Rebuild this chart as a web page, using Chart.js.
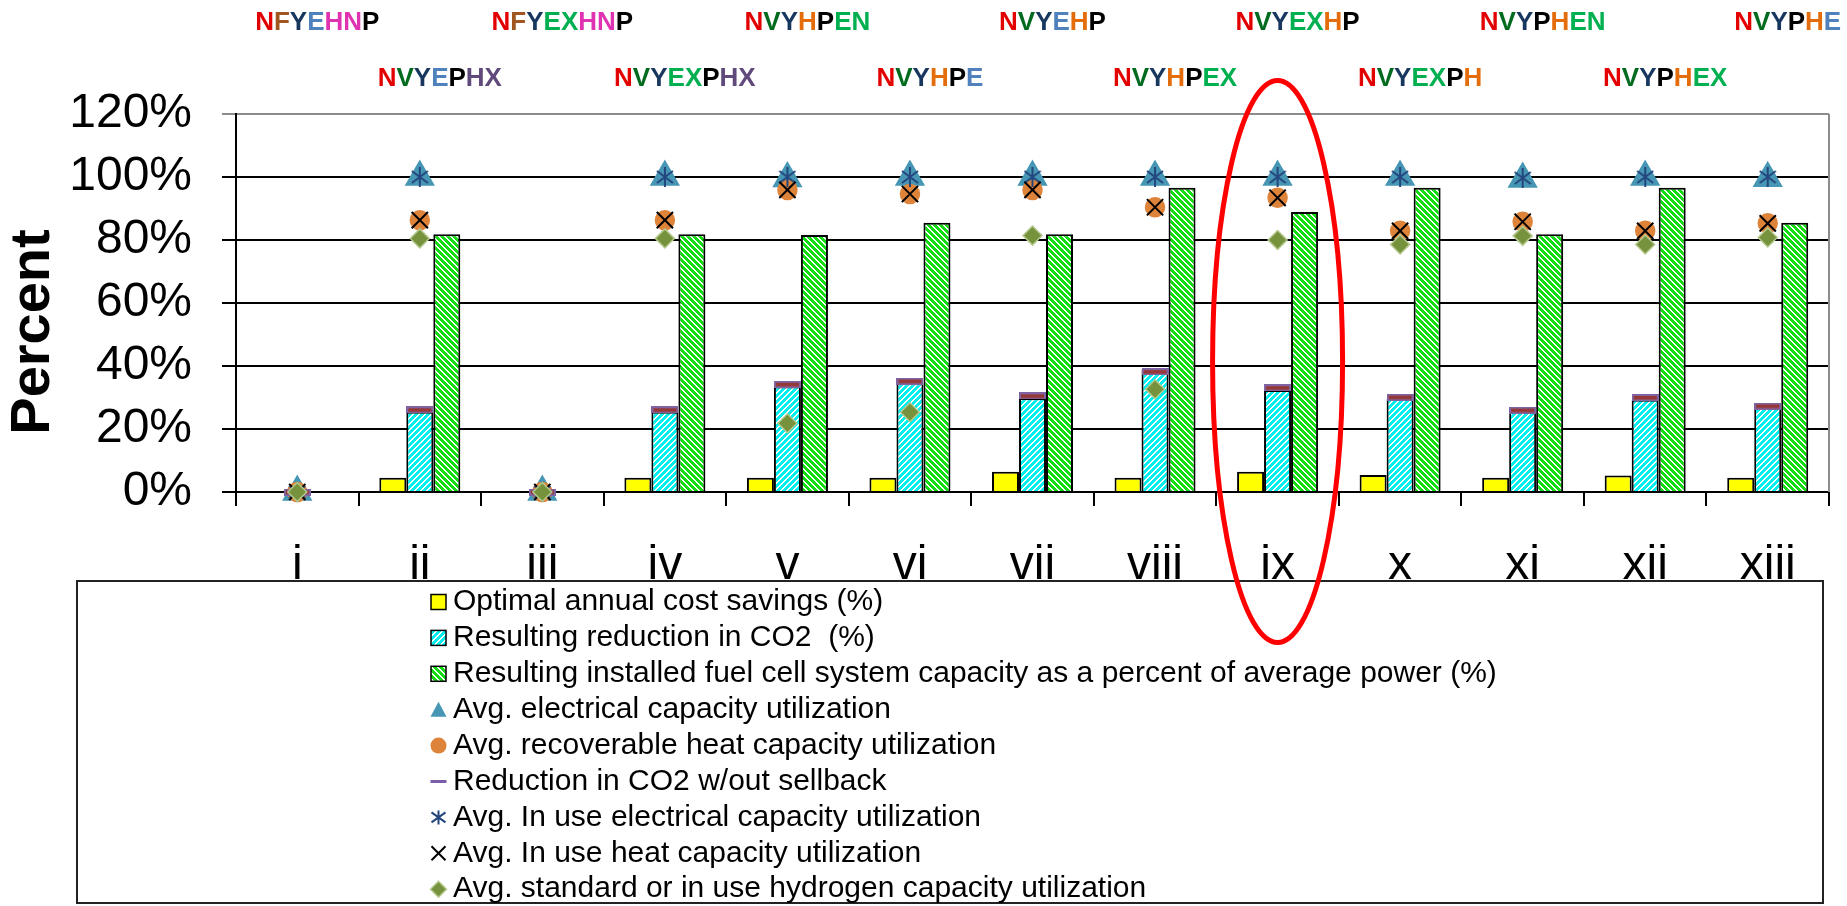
<!DOCTYPE html>
<html>
<head>
<meta charset="utf-8">
<title>Fuel cell system results</title>
<script src="https://cdn.jsdelivr.net/npm/chart.js@4.4.1/dist/chart.umd.min.js"></script>
<style>
    body { margin: 0; background: #fff; }
    canvas { display: block; }
</style>
</head>
<body>
<canvas id="resultsChart" width="1847" height="906"></canvas>
<script>
// ---- data ----
var categories = ['i', 'ii', 'iii', 'iv', 'v', 'vi', 'vii', 'viii', 'ix', 'x', 'xi', 'xii', 'xiii'];
var yTicks = [0, 20, 40, 60, 80, 100, 120];

var costSavings   = [0, 4.5, 0, 4.5, 4.5, 4.5, 6.4, 4.5, 6.4, 5.4, 4.5, 5.2, 4.5];
var co2Reduction  = [0, 25.5, 0, 25.5, 33.5, 34.5, 29.8, 39.0, 32.4, 29.5, 25.4, 29.3, 26.7];
var fcCapacity    = [0, 81.8, 0, 81.8, 81.6, 85.5, 81.8, 96.6, 88.9, 96.6, 81.8, 96.6, 85.5];
var elecUtil      = [0, 100, 0, 100, 99.5, 100, 100, 100, 100, 100, 99.4, 100, 99.6];
var heatUtil      = [0, 86.3, 0, 86.3, 95.9, 94.6, 95.9, 90.4, 93.4, 82.9, 85.8, 82.9, 85.3];
var co2NoSellback = [0, 26.1, 0, 26.1, 34.2, 35.2, 30.5, 38.2, 33.1, 30.1, 26.0, 30.0, 27.3];
var inUseElec     = [0, 100, 0, 100, 100, 100, 100, 100, 100, 100, 99.7, 100, 100];
var inUseHeat     = [0, 86.3, 0, 86.3, 95.9, 94.6, 95.9, 90.4, 93.4, 82.9, 85.8, 82.9, 85.3];
var h2Util        = [0, 80.5, 0, 80.5, 21.8, 25.3, 81.4, 32.6, 80.0, 78.6, 81.3, 78.6, 80.8];

// scenario codes printed above each category
var techLabels = ['NFYEHNP', 'NVYEPHX', 'NFYEXHNP', 'NVYEXPHX', 'NVYHPEN', 'NVYHPE', 'NVYEHP',
                  'NVYHPEX', 'NVYEXHP', 'NVYEXPH', 'NVYPHEN', 'NVYPHEX', 'NVYPHE'];

// ---- styling ----
var FONT = '"Liberation Sans", Arial, sans-serif';
Chart.defaults.font.family = FONT;
Chart.defaults.color = '#000';

// one colour code per letter of techLabels
var letterColors = ['rbdlppk', 'rvdlkuu', 'rbdggppk', 'rvdggkuu', 'rvdokgg', 'rvdokl', 'rvdlok',
                    'rvdokgg', 'rvdggok', 'rvdggko', 'rvdkogg', 'rvdkogg', 'rvdkol'];
var palette = {
    r: '#E30000', b: '#A0561E', d: '#17375E', l: '#4F81BD', p: '#E033B2',
    k: '#000000', g: '#00B050', v: '#006B1E', o: '#E46C0A', u: '#604A7B'
};

function hatch(color, up) {
    // pixel diagonal stripes, 6px period, 4px coloured
    var c = document.createElement('canvas');
    c.width = 6; c.height = 6;
    var g = c.getContext('2d');
    g.fillStyle = '#fff';
    g.fillRect(0, 0, 6, 6);
    g.fillStyle = color;
    for (var px = 0; px < 6; px++) {
        for (var py = 0; py < 6; py++) {
            var k = up ? (px + py) % 6 : (px - py + 6) % 6;
            if (k < 4) g.fillRect(px, py, 1, 1);
        }
    }
    return g.createPattern(c, 'repeat');
}

function asteriskImage(w, h, color) {
    var c = document.createElement('canvas');
    c.width = w; c.height = h;
    var g = c.getContext('2d');
    g.strokeStyle = color;
    g.lineWidth = 2;
    g.beginPath();
    g.moveTo(w / 2, 0); g.lineTo(w / 2, h);
    g.moveTo(1, h * 0.2); g.lineTo(w - 1, h * 0.8);
    g.moveTo(w - 1, h * 0.2); g.lineTo(1, h * 0.8);
    g.stroke();
    return c;
}

function dashImage() {
    var c = document.createElement('canvas');
    c.width = 27; c.height = 7;
    var g = c.getContext('2d');
    g.fillStyle = '#8064A2';
    g.fillRect(0, 0, 27, 7);
    g.fillStyle = '#953735';
    g.fillRect(2, 2, 23, 3.5);
    return c;
}

var cyanHatch = hatch('#00F0F0', true);
var greenHatch = hatch('#11DD11', false);

var TRI = '#4696B4', CIRC = '#DE843A', STAR = '#24467E', DIAM = '#76923C';

function drawLegendSymbol(ctx, ds, x, y) {
    ctx.save();
    ctx.lineWidth = 1.5;
    switch (ds.sym) {
        case 'box':
            ctx.fillStyle = ds.backgroundColor;
            ctx.fillRect(x - 7.5, y - 7.5, 15, 15);
            ctx.strokeStyle = '#000';
            ctx.strokeRect(x - 7.5, y - 7.5, 15, 15);
            break;
        case 'tri':
            ctx.fillStyle = TRI;
            ctx.beginPath();
            ctx.moveTo(x, y - 8); ctx.lineTo(x + 8, y + 7); ctx.lineTo(x - 8, y + 7);
            ctx.closePath(); ctx.fill();
            break;
        case 'circ':
            ctx.fillStyle = CIRC;
            ctx.beginPath(); ctx.arc(x, y, 8, 0, Math.PI * 2); ctx.fill();
            break;
        case 'dash':
            ctx.fillStyle = '#7B5EA7';
            ctx.fillRect(x - 8, y - 1.5, 16, 3);
            break;
        case 'star':
            ctx.strokeStyle = STAR; ctx.lineWidth = 2;
            ctx.beginPath();
            ctx.moveTo(x, y - 7); ctx.lineTo(x, y + 7);
            ctx.moveTo(x - 7, y - 5); ctx.lineTo(x + 7, y + 5);
            ctx.moveTo(x + 7, y - 5); ctx.lineTo(x - 7, y + 5);
            ctx.stroke();
            break;
        case 'cross':
            ctx.strokeStyle = '#000'; ctx.lineWidth = 2;
            ctx.beginPath();
            ctx.moveTo(x - 7, y - 7); ctx.lineTo(x + 7, y + 7);
            ctx.moveTo(x + 7, y - 7); ctx.lineTo(x - 7, y + 7);
            ctx.stroke();
            break;
        case 'diam':
            ctx.fillStyle = DIAM; ctx.strokeStyle = '#B5C98F';
            ctx.beginPath();
            ctx.moveTo(x, y - 8); ctx.lineTo(x + 8, y); ctx.lineTo(x, y + 8); ctx.lineTo(x - 8, y);
            ctx.closePath(); ctx.fill(); ctx.stroke();
            break;
    }
    ctx.restore();
}

var extras = {
    id: 'extras',
    beforeDraw: function (chart) {
        var ctx = chart.ctx;
        ctx.save();
        ctx.fillStyle = '#fff';
        ctx.fillRect(0, 0, chart.width, chart.height);
        ctx.restore();
    },
    afterDraw: function (chart) {
        var ctx = chart.ctx;
        var area = chart.chartArea;
        var xs = chart.scales.x, ys = chart.scales.y;
        ctx.save();

        // plot area right edge
        ctx.strokeStyle = '#8c8c8c';
        ctx.lineWidth = 2;
        ctx.beginPath();
        ctx.moveTo(area.right, area.top);
        ctx.lineTo(area.right, area.bottom);
        ctx.stroke();

        // coloured scenario codes
        ctx.font = 'bold 26px ' + FONT;
        ctx.textBaseline = 'middle';
        ctx.textAlign = 'left';
        for (var i = 0; i < techLabels.length; i++) {
            var txt = techLabels[i];
            var px = xs.getPixelForValue(i) + 20 - ctx.measureText(txt).width / 2;
            var py = i % 2 ? 79 : 23;
            for (var j = 0; j < txt.length; j++) {
                ctx.fillStyle = palette[letterColors[i][j]];
                ctx.fillText(txt[j], px, py);
                px += ctx.measureText(txt[j]).width;
            }
        }

        // axis title
        ctx.save();
        ctx.translate(34, 332);
        ctx.rotate(-Math.PI / 2);
        ctx.font = 'bold 56px ' + FONT;
        ctx.fillStyle = '#000';
        ctx.textAlign = 'center';
        ctx.fillText('Percent', 0, 0);
        ctx.restore();

        // legend box
        ctx.strokeStyle = '#222';
        ctx.lineWidth = 2;
        ctx.strokeRect(77, 581, 1746, 322);
        ctx.font = '30px ' + FONT;
        ctx.fillStyle = '#000';
        chart.data.datasets.forEach(function (ds, k) {
            var cy = 602 + k * 35.9;
            drawLegendSymbol(ctx, ds, 438.5, cy);
            ctx.fillStyle = '#000';
            ctx.fillText(ds.label, 453, cy);
        });

        // red ellipse around case ix
        ctx.strokeStyle = '#FF0000';
        ctx.lineWidth = 5;
        ctx.beginPath();
        ctx.ellipse(xs.getPixelForValue(8), ys.getPixelForValue(41.4), 65, 281, 0, 0, Math.PI * 2);
        ctx.stroke();

        ctx.restore();
    }
};

function markerSet(label, data, style, radius, fill, border, order) {
    return {
        type: 'line', label: label, data: data, showLine: false, clip: false,
        pointStyle: style, pointRadius: radius,
        pointBackgroundColor: fill, pointBorderColor: border, pointBorderWidth: 1.5,
        order: order
    };
}

var datasets = [
    { label: 'Optimal annual cost savings (%)', data: costSavings, sym: 'box',
      backgroundColor: '#FFFF00', borderColor: '#000', borderWidth: 2, order: 10 },
    { label: 'Resulting reduction in CO2  (%)', data: co2Reduction, sym: 'box',
      backgroundColor: cyanHatch, borderColor: '#000', borderWidth: 2, order: 10 },
    { label: 'Resulting installed fuel cell system capacity as a percent of average power (%)', data: fcCapacity, sym: 'box',
      backgroundColor: greenHatch, borderColor: '#000', borderWidth: 2, order: 10 },
    Object.assign(markerSet('Avg. electrical capacity utilization', elecUtil, 'triangle', 16, TRI, TRI, 6), { sym: 'tri' }),
    Object.assign(markerSet('Avg. recoverable heat capacity utilization', heatUtil, 'circle', 9.5, CIRC, CIRC, 5), { sym: 'circ' }),
    Object.assign(markerSet('Reduction in CO2 w/out sellback', co2NoSellback, dashImage(), 10, '#953735', '#8064A2', 4), { sym: 'dash' }),
    Object.assign(markerSet('Avg. In use electrical capacity utilization', inUseElec, asteriskImage(18, 20, STAR), 10, STAR, STAR, 3), { sym: 'star' }),
    Object.assign(markerSet('Avg. In use heat capacity utilization', inUseHeat, 'crossRot', 11.5, '#000', '#000', 2), { sym: 'cross', pointBorderWidth: 2 }),
    Object.assign(markerSet('Avg. standard or in use hydrogen capacity utilization', h2Util, 'rectRot', 9.5, DIAM, '#B5C98F', 1), { sym: 'diam' })
];

var ctx = document.getElementById('resultsChart').getContext('2d');
var resultsChart = new Chart(ctx, {
    type: 'bar',
    data: { labels: categories, datasets: datasets },
    options: {
        responsive: false,
        animation: false,
        events: [],
        categoryPercentage: 0.661,
        barPercentage: 1,
        layout: { padding: { top: 114, right: 18, bottom: 304, left: 0 } },
        plugins: { legend: { display: false }, tooltip: { enabled: false } },
        scales: {
            x: {
                offset: true,
                grid: { offset: true, drawOnChartArea: false, color: '#000', lineWidth: 2, tickLength: 14 },
                border: { color: '#000', width: 2 },
                ticks: { color: '#000', font: { size: 48 }, padding: 31, maxRotation: 0, autoSkip: false },
                afterFit: function (s) { s.height = 110; }
            },
            y: {
                min: 0,
                max: 120,
                afterBuildTicks: function (s) {
                    s.ticks = yTicks.map(function (v) { return { value: v }; });
                },
                grid: {
                    color: function (c) { return c.tick && c.tick.value === 120 ? '#8c8c8c' : '#000'; },
                    lineWidth: 2,
                    tickLength: 14
                },
                border: { color: '#000', width: 2 },
                ticks: {
                    color: '#000', font: { size: 48 }, padding: 30,
                    callback: function (v) { return v + '%'; }
                },
                afterFit: function (s) { s.width = 236; }
            }
        }
    },
    plugins: [extras]
});
</script>
</body>
</html>
